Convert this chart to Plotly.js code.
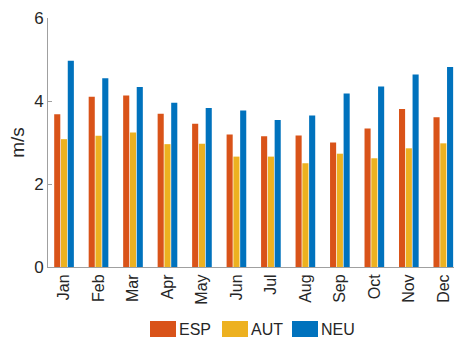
<!DOCTYPE html>
<html>
<head>
<meta charset="utf-8">
<script src="https://cdn.plot.ly/plotly-3.0.1.min.js"></script>
<style>
  html, body { margin: 0; padding: 0; background: #fff; }
  #chart { width: 454px; height: 341px; }
</style>
</head>
<body>
<div id="chart"></div>
<script>
// Monthly mean wind speed (m/s) for three sites
const months = ['Jan', 'Feb', 'Mar', 'Apr', 'May', 'Jun', 'Jul', 'Aug', 'Sep', 'Oct', 'Nov', 'Dec'];
const espValues = [3.68, 4.10, 4.13, 3.69, 3.45, 3.19, 3.15, 3.17, 3.00, 3.34, 3.81, 3.61];
const autValues = [3.08, 3.16, 3.24, 2.96, 2.97, 2.66, 2.66, 2.50, 2.73, 2.62, 2.86, 2.98];
const neuValues = [4.97, 4.55, 4.34, 3.96, 3.83, 3.77, 3.54, 3.65, 4.18, 4.35, 4.64, 4.82];
const seriesNames = ['ESP', 'AUT', 'NEU'];
const seriesColors = ['#D95319', '#EDB120', '#0072BD'];

const seriesValues = [espValues, autValues, neuValues];
const traces = seriesValues.map((vals, i) => ({
  type: 'bar',
  x: months.map((m, k) => k),
  y: vals,
  name: seriesNames[i],
  marker: { color: seriesColors[i], line: { width: 0 } },
  hoverinfo: 'x+y+name'
}));

// Legend row below the axes: coloured swatch followed by the series name
const plotLeft = 48, plotWidth = 406, plotBottom = 267, plotHeight = 249;
const swatchStart = [150, 222, 292];
const shapes = [];
const annotations = [];
seriesNames.forEach((name, i) => {
  const x0 = swatchStart[i];
  shapes.push({
    type: 'rect', xref: 'paper', yref: 'paper', layer: 'above',
    x0: (x0 - plotLeft) / plotWidth, x1: (x0 + 26 - plotLeft) / plotWidth,
    y0: (plotBottom - 337) / plotHeight, y1: (plotBottom - 321) / plotHeight,
    fillcolor: seriesColors[i], line: { width: 0 }
  });
  annotations.push({
    xref: 'paper', yref: 'paper',
    x: (x0 + 27 - plotLeft) / plotWidth, y: (plotBottom - 329) / plotHeight,
    xanchor: 'left', yanchor: 'middle',
    text: name, showarrow: false,
    font: { family: 'Liberation Sans, Arial, sans-serif', size: 16, color: '#262626' }
  });
});

const layout = {
  width: 454, height: 341,
  margin: { l: 48, r: 0, t: 18, b: 74, pad: 0 },
  paper_bgcolor: '#fff', plot_bgcolor: '#fff',
  barmode: 'group', bargap: 0.41, bargroupgap: 0.1,
  showlegend: false,
  font: { family: 'Liberation Sans, Arial, sans-serif', color: '#262626' },
  xaxis: {
    range: [-0.465, 11.31],
    tickmode: 'array',
    tickvals: months.map((m, k) => k),
    ticktext: months,
    tickangle: -90,
    tickfont: { size: 16, color: '#262626' },
    showline: true, linecolor: '#a0a0a0', linewidth: 1,
    ticks: '', showgrid: false, zeroline: false
  },
  yaxis: {
    range: [0, 6],
    tickvals: [0, 2, 4, 6],
    tickfont: { size: 17, color: '#262626' },
    ticks: 'inside', ticklen: 4, tickcolor: '#a0a0a0',
    showline: true, linecolor: '#a0a0a0', linewidth: 1,
    showgrid: false, zeroline: false,
    title: { text: 'm/s', font: { size: 19, color: '#262626' }, standoff: 4 }
  },
  shapes: shapes,
  annotations: annotations
};

Plotly.newPlot('chart', traces, layout, { staticPlot: true, displayModeBar: false });
</script>
</body>
</html>
